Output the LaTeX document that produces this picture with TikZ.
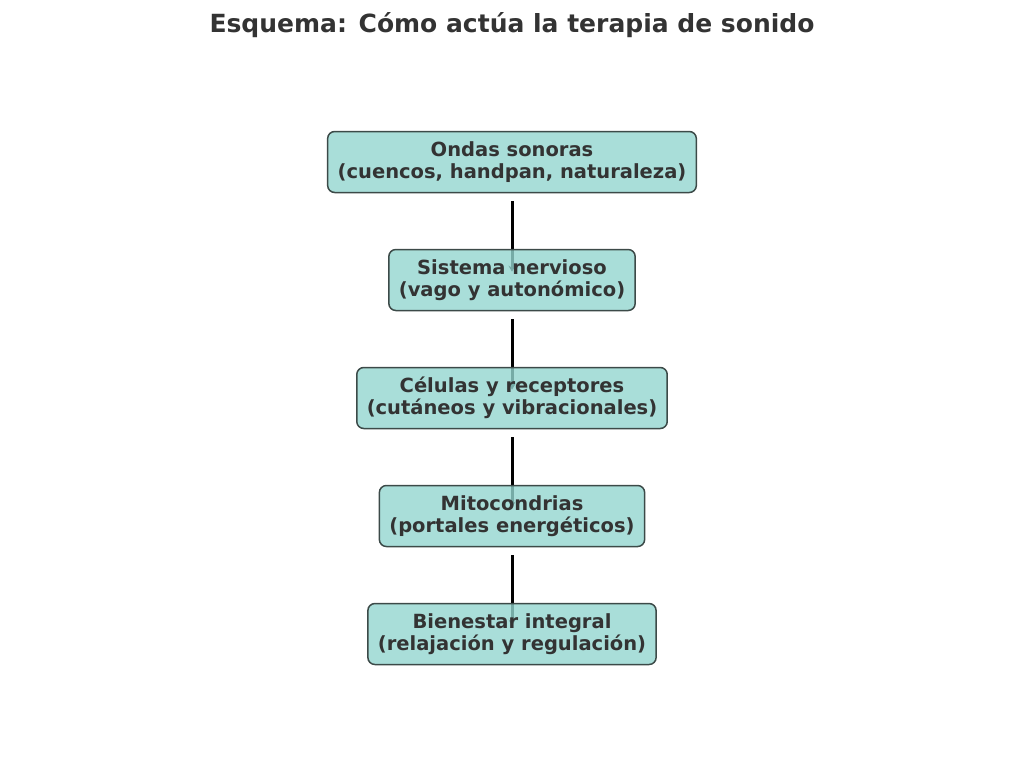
\documentclass[tikz,border=0pt]{standalone}
\usepackage{fontspec}
\setmainfont{DejaVu Sans}
\usetikzlibrary{positioning,backgrounds,arrows.meta}
\definecolor{boxfill}{HTML}{94D6D0}
\definecolor{boxedge}{HTML}{3C4A48}
\definecolor{txt}{HTML}{333333}
\tikzset{
  stage/.style={draw=boxedge,line width=1.5pt,fill=boxfill,fill opacity=0.8,text opacity=1,rounded corners=7pt,
    align=center,inner xsep=10pt,minimum height=61pt,text=txt,font=\fontsize{19.5}{22}\selectfont\bfseries},
  flow/.style={line width=3pt,-{Stealth[length=6pt,width=7pt]},shorten <=8pt,shorten >=-23pt}
}
\begin{document}
\begin{tikzpicture}[x=1pt,y=1pt,yscale=-1]
	\useasboundingbox (0,0) rectangle (1024,765);

	% Title
	\node (title) at (512,25) [text=txt,font=\fontsize{25}{28}\selectfont\bfseries] {Esquema: Cómo actúa la terapia de sonido};

	% Stages
	\node (ondas) at (512,162) [stage] {Ondas sonoras\\(cuencos, handpan, naturaleza)};
	\node (sistema) at (512,280) [stage] {Sistema nervioso\\(vago y autonómico)};
	\node (celulas) at (512,398) [stage] {Células y receptores\\(cutáneos y vibracionales)};
	\node (mito) at (512,516) [stage] {Mitocondrias\\(portales energéticos)};
	\node (bienestar) at (512,634) [stage] {Bienestar integral\\(relajación y regulación)};

	% Connectors
	\begin{pgfonlayer}{background}
	\draw [flow] (ondas) -- (sistema);
	\draw [flow] (sistema) -- (celulas);
	\draw [flow] (celulas) -- (mito);
	\draw [flow] (mito) -- (bienestar);
	\end{pgfonlayer}
\end{tikzpicture}
\end{document}
